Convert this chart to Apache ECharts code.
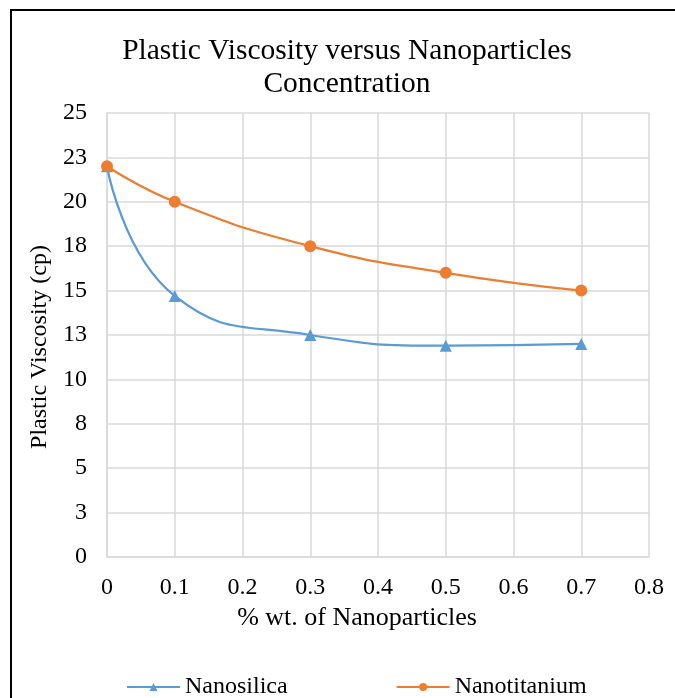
<!DOCTYPE html>
<html>
<head>
<meta charset="utf-8">
<script src="https://cdn.jsdelivr.net/npm/echarts@6/dist/echarts.min.js"></script>
<style>
  html, body { margin: 0; padding: 0; background: #fff; }
  #chart { width: 675px; height: 698px; }
</style>
</head>
<body>
<div id="chart"></div>
<script>
// Concentrations (% wt.) and measured plastic viscosity (cp)
const concentration = [0, 0.1, 0.3, 0.5, 0.7];
const nanosilica = [22.0, 14.7, 12.5, 11.9, 12.0];
const nanotitanium = [22.0, 20.0, 17.5, 16.0, 15.0];

const seriesNames = ['Nanosilica', 'Nanotitanium'];
const seriesColors = ['#5b9bd5', '#ed7d31'];

const FONT = '"Liberation Serif", "Times New Roman", serif';

function pairs(xs, ys) {
  return xs.map((x, i) => [x, ys[i]]);
}

const chart = echarts.init(document.getElementById('chart'), null, { renderer: 'canvas' });

chart.setOption({
  backgroundColor: '#ffffff',
  animation: false,
  textStyle: { fontFamily: FONT, color: '#000' },
  title: {
    text: 'Plastic Viscosity versus Nanoparticles\nConcentration',
    left: 342,
    top: 30,
    textAlign: 'center',
    textStyle: {
      fontFamily: FONT,
      fontSize: 29.5,
      fontWeight: 'normal',
      color: '#000',
      lineHeight: 33
    }
  },
  graphic: [{
    type: 'rect',
    shape: { x: 11, y: 10, width: 700, height: 720 },
    style: { fill: null, stroke: '#000', lineWidth: 2 },
    silent: true,
    z: 100
  }],
  legend: {
    data: seriesNames,
    left: 121,
    top: 670,
    itemWidth: 53,
    itemHeight: 10,
    itemGap: 108,
    textStyle: { fontFamily: FONT, fontSize: 24, color: '#000' }
  },
  grid: {
    left: 107,
    right: 26,
    top: 113,
    bottom: 141,
    containLabel: false
  },
  xAxis: {
    type: 'value',
    min: 0,
    max: 0.8,
    interval: 0.1,
    name: '% wt. of Nanoparticles',
    nameLocation: 'middle',
    nameGap: 48,
    nameTextStyle: { fontFamily: FONT, fontSize: 26, color: '#000', padding: [0, 42, 0, 0] },
    axisLine: { show: true, lineStyle: { color: '#d9d9d9', width: 1.5 } },
    axisTick: { show: false },
    axisLabel: {
      fontFamily: FONT, fontSize: 24, color: '#000', margin: 19,
      formatter: v => (v === 0 ? '0' : v.toFixed(1))
    },
    splitLine: { show: true, lineStyle: { color: '#d9d9d9', width: 1.5 } }
  },
  yAxis: {
    type: 'value',
    min: 0,
    max: 25,
    interval: 2.5,
    name: 'Plastic Viscosity (cp)',
    nameLocation: 'middle',
    nameGap: 48,
    nameTextStyle: { fontFamily: FONT, fontSize: 24, color: '#000', padding: [0, 24, 0, 0] },
    axisLine: { show: true, lineStyle: { color: '#d9d9d9', width: 1.5 } },
    axisTick: { show: false },
    axisLabel: {
      fontFamily: FONT, fontSize: 24, color: '#000', margin: 20,
      formatter: v => String(Math.round(v))
    },
    splitLine: { show: true, lineStyle: { color: '#d9d9d9', width: 1.5 } }
  },
  series: [
    {
      name: seriesNames[0],
      type: 'line',
      data: pairs(concentration, nanosilica),
      smooth: 0.5,
      symbol: 'triangle',
      symbolSize: 12,
      itemStyle: { color: seriesColors[0] },
      lineStyle: { color: seriesColors[0], width: 2.25 },
      z: 3
    },
    {
      name: seriesNames[1],
      type: 'line',
      data: pairs(concentration, nanotitanium),
      smooth: 0.5,
      symbol: 'circle',
      symbolSize: 12,
      itemStyle: { color: seriesColors[1] },
      lineStyle: { color: seriesColors[1], width: 2.25 },
      z: 4
    }
  ]
});
</script>
</body>
</html>
